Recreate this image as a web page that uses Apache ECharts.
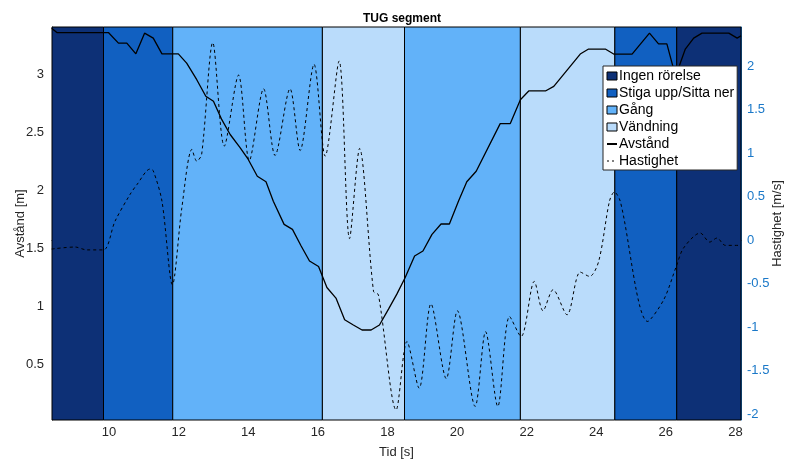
<!DOCTYPE html>
<html>
<head>
<meta charset="utf-8">
<script src="https://cdn.jsdelivr.net/npm/echarts@6/dist/echarts.min.js"></script>
<style>
  html, body { margin: 0; padding: 0; background: #fff; }
  #chart { width: 787px; height: 462px; }
</style>
</head>
<body>
<div id="chart"></div>
<script>
// phases (TUG segments), start/end in seconds
const phaseNames = ['Ingen rörelse', 'Stiga upp/Sitta ner', 'Gång', 'Vändning'];
const segStart = [8.36, 9.84, 11.83, 16.13, 18.49, 21.82, 24.53, 26.31];
const segEnd = [9.84, 11.83, 16.13, 18.49, 21.82, 24.53, 26.31, 28.16];
const segPhase = ['Ingen rörelse', 'Stiga upp/Sitta ner', 'Gång', 'Vändning', 'Gång', 'Vändning', 'Stiga upp/Sitta ner', 'Ingen rörelse'];

// Avstånd [m]
const distTime = [8.35, 8.50, 9.98, 10.27, 10.51, 10.77, 11.02, 11.27, 11.52, 11.99, 12.23, 12.52, 12.78, 13.00,
  13.24, 13.48, 13.77, 14.00, 14.26, 14.51, 14.72, 15.03, 15.27, 15.52, 15.76, 16.02, 16.26, 16.52, 16.77,
  17.02, 17.27, 17.53, 17.77, 18.03, 18.27, 18.51, 18.78, 19.02, 19.28, 19.54, 19.78, 20.04, 20.28, 20.55,
  21.24, 21.53, 21.82, 22.06, 22.54, 22.78, 23.54, 23.78, 24.26, 24.50, 25.03, 25.53, 25.79, 26.03, 26.28,
  26.56, 26.80, 27.04, 27.81, 28.05, 28.16];
const distValue = [3.395, 3.357, 3.357, 3.266, 3.266, 3.174, 3.352, 3.309, 3.174, 3.174, 3.094, 2.951, 2.808, 2.765,
  2.607, 2.479, 2.364, 2.264, 2.120, 2.072, 1.905, 1.705, 1.662, 1.519, 1.390, 1.342, 1.161, 1.070, 0.883,
  0.838, 0.795, 0.795, 0.838, 0.975, 1.104, 1.247, 1.433, 1.476, 1.619, 1.708, 1.708, 1.905, 2.072, 2.163,
  2.573, 2.573, 2.779, 2.854, 2.854, 2.894, 3.172, 3.215, 3.215, 3.172, 3.172, 3.352, 3.260, 3.260, 2.980,
  3.215, 3.309, 3.352, 3.352, 3.309, 3.330];

// Hastighet [m/s]
const velTime = [8.35, 9.02, 9.36, 9.84, 10.17, 10.60, 10.80, 11.18, 11.27, 11.52, 11.82, 12.09, 12.38, 12.52,
  12.66, 12.98, 13.31, 13.72, 14.03, 14.44, 14.77, 15.20, 15.49, 15.89, 16.21, 16.61, 16.91, 17.20, 17.60,
  17.74, 18.25, 18.56, 18.91, 19.25, 19.69, 20.01, 20.52, 20.82, 21.17, 21.51, 21.84, 22.22, 22.47, 22.76,
  23.16, 23.54, 23.81, 24.07, 24.38, 24.52, 24.69, 25.48, 25.94, 26.30, 26.51, 26.99, 27.26, 27.47, 27.71, 28.16];
const velValue = [-0.10, -0.077, -0.11, -0.11, 0.219, 0.526, 0.64, 0.82, 0.80, 0.45, -0.51, 0.37, 1.045, 0.91,
  0.987, 2.273, 1.083, 1.90, 0.918, 1.743, 0.976, 1.743, 1.033, 2.024, 0.968, 2.062, 0.02, 1.056, -0.588,
  -0.626, -1.95, -1.164, -1.70, -0.73, -1.59, -0.81, -1.91, -1.05, -1.91, -0.876, -1.106, -0.472, -0.81, -0.568,
  -0.856, -0.365, -0.415, -0.242, 0.45, 0.556, 0.45, -0.933, -0.683, -0.30, -0.088, 0.084, -0.02, 0.027, -0.058, -0.058];

const xTicks = [10, 12, 14, 16, 18, 20, 22, 24, 26, 28];
const leftTicks = [0.5, 1, 1.5, 2, 2.5, 3];
const rightTicks = [-2, -1.5, -1, -0.5, 0, 0.5, 1, 1.5, 2];

const phaseColor = {
  'Ingen rörelse': '#0d3076',
  'Stiga upp/Sitta ner': '#1160c1',
  'Gång': '#62b2f9',
  'Vändning': '#badcfb'
};

const font = 'Liberation Sans, Arial, Helvetica, sans-serif';

const phaseSeries = phaseNames.map(function (name) {
  const areas = [];
  segPhase.forEach(function (p, i) {
    if (p === name) areas.push([{ xAxis: segStart[i] }, { xAxis: segEnd[i] }]);
  });
  return {
    name: name,
    type: 'line',
    data: [],
    silent: true,
    itemStyle: { color: phaseColor[name], borderColor: '#000', borderWidth: 1 },
    markArea: {
      silent: true,
      itemStyle: { color: phaseColor[name], borderColor: '#000', borderWidth: 1 },
      data: areas
    }
  };
});

const chart = echarts.init(document.getElementById('chart'));
chart.setOption({
  animation: false,
  backgroundColor: '#fff',
  title: {
    text: 'TUG segment',
    left: 397, top: 8, textAlign: 'center',
    textStyle: { fontFamily: font, fontSize: 12, fontWeight: 'bold', color: '#000' }
  },
  grid: { left: 52, right: 46, top: 27, bottom: 42, outerBoundsMode: 'none', containLabel: false },
  legend: {
    orient: 'vertical',
    left: 603, top: 66,
    z: 10,
    padding: [3, 3, 2, 3],
    itemGap: 3,
    itemWidth: 10,
    itemHeight: 8,
    backgroundColor: '#fff',
    borderColor: '#262626',
    borderWidth: 1,
    borderRadius: 0,
    textStyle: { fontFamily: font, fontSize: 14, color: '#000', padding: [0, 0, 0, -3] },
    data: phaseNames.map(function (n) {
      return { name: n, icon: 'rect', itemStyle: { color: phaseColor[n], borderColor: '#000', borderWidth: 1 } };
    }).concat([
      { name: 'Avstånd', itemStyle: { opacity: 0 } },
      { name: 'Hastighet', itemStyle: { opacity: 0 }, lineStyle: { type: [2, 3], width: 1 } }
    ])
  },
  xAxis: {
    type: 'value',
    min: 8.36, max: 28.16,
    name: 'Tid [s]',
    nameLocation: 'middle',
    nameGap: 26,
    nameMoveOverlap: false,
    nameTextStyle: { fontFamily: font, fontSize: 13, color: '#262626' },
    axisLine: { show: true, lineStyle: { color: '#262626' } },
    axisTick: { show: true, inside: true, length: 5, customValues: xTicks, lineStyle: { color: '#262626' } },
    axisLabel: { customValues: xTicks, fontFamily: font, fontSize: 13, color: '#262626', margin: 6 },
    splitLine: { show: false }
  },
  yAxis: [
    {
      type: 'value',
      min: 0.02, max: 3.405,
      name: 'Avstånd [m]',
      nameLocation: 'middle',
      nameGap: 25,
      nameMoveOverlap: false,
      nameTextStyle: { fontFamily: font, fontSize: 13, color: '#262626' },
      axisLine: { show: true, lineStyle: { color: '#262626' } },
      axisTick: { show: true, inside: true, length: 5, customValues: leftTicks, lineStyle: { color: '#262626' } },
      axisLabel: { customValues: leftTicks, fontFamily: font, fontSize: 13, color: '#262626', margin: 8 },
      splitLine: { show: false }
    },
    {
      type: 'value',
      position: 'right',
      min: -2.066, max: 2.453,
      name: 'Hastighet [m/s]',
      nameLocation: 'middle',
      nameGap: 30,
      nameRotate: 90,
      nameMoveOverlap: false,
      nameTextStyle: { fontFamily: font, fontSize: 13, color: '#262626' },
      axisLine: { show: true, lineStyle: { color: '#1a78c8' } },
      axisTick: { show: true, inside: true, length: 5, customValues: rightTicks, lineStyle: { color: '#1a78c8' } },
      axisLabel: { customValues: rightTicks, fontFamily: font, fontSize: 13, color: '#1a78c8', margin: 6 },
      splitLine: { show: false }
    }
  ],
  series: phaseSeries.concat([
    {
      name: 'Avstånd',
      type: 'line',
      yAxisIndex: 0,
      z: 3,
      symbol: 'none',
      lineStyle: { color: '#000', width: 1.3 },
      itemStyle: { color: '#000' },
      data: distTime.map(function (t, i) { return [t, distValue[i]]; })
    },
    {
      name: 'Hastighet',
      type: 'line',
      yAxisIndex: 1,
      z: 3,
      symbol: 'none',
      smooth: 0.3,
      lineStyle: { color: '#000', width: 1, type: [3, 3] },
      itemStyle: { color: '#000' },
      data: velTime.map(function (t, i) { return [t, velValue[i]]; })
    }
  ])
});
</script>
</body>
</html>
